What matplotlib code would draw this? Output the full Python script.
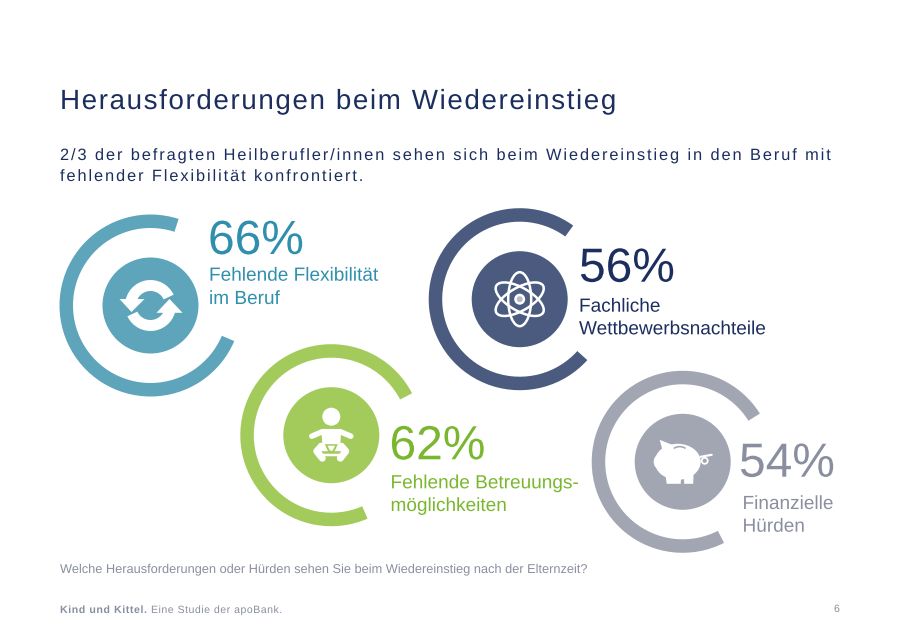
import matplotlib
matplotlib.use("Agg")
import matplotlib.pyplot as plt
from matplotlib.colors import to_rgba
from matplotlib.patches import Circle, Wedge, Ellipse, Polygon
from matplotlib.text import Text
from matplotlib.textpath import TextPath, text_to_path
from matplotlib.transforms import Affine2D, Bbox

plt.rcParams["font.family"] = ["Liberation Sans", "DejaVu Sans"]

H = 637

title = "Herausforderungen beim Wiedereinstieg"
subtitle = ["2/3 der befragten Heilberufler/innen sehen sich beim Wiedereinstieg in den Beruf mit",
            "fehlender Flexibilität konfrontiert."]
question = "Welche Herausforderungen oder Hürden sehen Sie beim Wiedereinstieg nach der Elternzeit?"

percent = [66, 62, 56, 54]
labels = [["Fehlende Flexibilität", "im Beruf"],
          ["Fehlende Betreuungs-", "möglichkeiten"],
          ["Fachliche", "Wettbewerbsnachteile"],
          ["Finanzielle", "Hürden"]]
# arc ends as drawn on the slide, degrees ccw from east
arc_start = [72, 27.4, 54, 32]
arc_end = [337, 293.5, 318, 297]

# layout, all in pixels from top left
centers = [(150.5, 305.5), (331.3, 435.2), (519.7, 299.2), (682.7, 461.8)]
num_pos = [(208, 254), (389.5, 459.3), (579, 281.7), (739, 476.7)]
lab_pos = [(209, 280.7, 304), (390.5, 488.3, 511), (579, 311.7, 334.3), (742.5, 509, 531.7)]
ring_col = ["#5EA5BB", "#A3CB5C", "#4A5B7F", "#A2A6B3"]
text_col = ["#2F8FAD", "#7AB72F", "#1C2E5E", "#8A8FA0"]
navy = "#1C2E5E"
grey = "#8A8FA0"


# matplotlib has no letter spacing, so draw the string glyph by glyph as outlines
# (outlines because Agg rounds glyph bitmaps to whole pixels and the letters jump)
class SpacedText(Text):
    def __init__(self, x, y, s, spacing=0.0, **kw):
        super().__init__(x, y, s, **kw)
        self.spacing = spacing

    def get_window_extent(self, renderer=None, dpi=None):
        b = super().get_window_extent(renderer, dpi)
        return Bbox.from_extents(b.x0, b.y0, b.x1 + self.spacing * (len(self.get_text()) - 1), b.y1)

    def draw(self, renderer):
        s = self.get_text()
        fp = self.get_fontproperties()
        k = renderer.dpi / 72
        x, y = self.get_transform().transform(self.get_position())
        gc = renderer.new_gc()
        gc.set_linewidth(0)
        gc.set_snap(False)
        face = to_rgba(self.get_color())
        for i, ch in enumerate(s):
            if ch == " ":
                continue
            w = text_to_path.get_text_width_height_descent(s[:i + 1], fp, False)[0]
            w1 = text_to_path.get_text_width_height_descent(ch, fp, False)[0]
            path = TextPath((0, 0), ch, size=fp.get_size_in_points() * k, prop=fp)
            renderer.draw_path(gc, path, Affine2D().translate(x + (w - w1) * k + i * self.spacing, y), face)
        gc.restore()


fig = plt.figure(figsize=(9, 6.37), dpi=100)
ax = fig.add_axes([0, 0, 1, 1])
ax.set_xlim(0, 900)
ax.set_ylim(0, H)
ax.axis("off")


def txt(x, y, s, size, color, spacing=0.0, **kw):
    t = SpacedText(x, H - y, s, spacing=spacing, fontsize=size, color=color, va="baseline", **kw)
    ax.add_artist(t)
    t.set_clip_on(False)


def poly(c, pts, color="white", z=4):
    ax.add_patch(Polygon([(c[0] + p[0], H - c[1] - p[1]) for p in pts], closed=True, fc=color, ec="none", zorder=z))


def line(c, pts, width, color="white", z=4):
    ax.plot([c[0] + p[0] for p in pts], [H - c[1] - p[1] for p in pts], color=color, lw=width * 0.72,
            solid_capstyle="round", solid_joinstyle="round", zorder=z)


def refresh_icon(c):
    cy = (c[0], H - c[1])
    ax.add_patch(Wedge(cy, 25.5, 25, 175, width=11, fc="white", ec="none", zorder=4))
    ax.add_patch(Wedge(cy, 25.5, 205, 355, width=11, fc="white", ec="none", zorder=4))
    poly(c, [(-31, -6.5), (-6, -6.5), (-19, 6.5)])
    poly(c, [(32, 7.3), (6, 7.3), (19, -6.5)])


def baby_icon(c):
    ax.add_patch(Circle((c[0], H - c[1] + 18.5), 9, fc="white", ec="none", zorder=4))
    line(c, [(-19.5, 1), (-9, -3.5), (9, -3.5), (19.5, 1)], 5.5)
    poly(c, [(-10, -6), (10, -6), (9, 9), (-9, 9)])
    poly(c, [(-12, 8), (12, 8), (15, 16), (-15, 16)])
    line(c, [(-10, 11), (-14.5, 16), (-9, 23)], 7)
    line(c, [(10, 11), (14.5, 16), (9, 23)], 7)
    line(c, [(-8, 20), (8, 20)], 2.5)
    poly(c, [(-6.5, 9), (6.5, 9), (2.5, 18), (-2.5, 18)], ring_col[1], 5)
    poly(c, [(-3.8, 10.5), (3.8, 10.5), (1.2, 15.5), (-1.2, 15.5)], "white", 6)


def atom_icon(c):
    cy = (c[0], H - c[1])
    for a in [30, 90, 150]:
        ax.add_patch(Ellipse(cy, 54, 23, angle=a, fc="none", ec="white", lw=1.8, zorder=4))
    ax.add_patch(Circle(cy, 5.5, fc="white", ec="none", zorder=5))
    ax.add_patch(Circle(cy, 3, fc="#B4BCCB", ec="none", zorder=6))


def pig_icon(c):
    col = ring_col[3]
    ax.add_patch(Ellipse((c[0] - 5, H - c[1]), 46, 36, fc="white", ec="none", zorder=4))
    ax.add_patch(Ellipse((c[0] - 25.5, H - c[1]), 7, 12, fc="white", ec="none", zorder=4))
    poly(c, [(-23, -22), (-8, -16), (-19, -7)])
    poly(c, [(-18, 8), (-1, 8), (-2, 22), (-16, 22)])
    poly(c, [(1, 8), (11, 8), (10.5, 22), (1.5, 22)])
    ax.add_patch(Wedge((c[0] - 3, H - c[1] + 5), 11, 55, 125, width=1.6, fc=col, ec="none", zorder=5))
    line(c, [(18, -5), (29, -7)], 2.2)
    ax.add_patch(Circle((c[0] + 22, H - c[1] + 1), 3, fc="none", ec="white", lw=1.3, zorder=4))


# rings and discs
for i in range(len(percent)):
    c = (centers[i][0], H - centers[i][1])
    ax.add_patch(Wedge(c, 91, arc_start[i], arc_end[i], width=13.5, fc=ring_col[i], ec="none", zorder=2))
    ax.add_patch(Circle(c, 48, fc=ring_col[i], ec="none", zorder=3))
    txt(num_pos[i][0], num_pos[i][1], str(percent[i]) + "%", 34.5, text_col[i])
    txt(lab_pos[i][0], lab_pos[i][1], labels[i][0], 13.7, text_col[i])
    txt(lab_pos[i][0], lab_pos[i][2], labels[i][1], 13.7, text_col[i])

refresh_icon(centers[0])
baby_icon(centers[1])
atom_icon(centers[2])
pig_icon(centers[3])

txt(60, 109, title, 20, navy, spacing=1.6)
txt(60, 160, subtitle[0], 11.8, navy, spacing=1.9)
txt(60, 181, subtitle[1], 11.8, navy, spacing=1.9)
txt(60, 573, question, 9.2, grey)
txt(60, 613, "Kind und Kittel.", 7.6, grey, spacing=0.6, fontweight="bold")
txt(151, 613, "Eine Studie der apoBank.", 7.6, grey, spacing=0.5)
txt(834, 612, "6", 7.6, grey)

fig.savefig("out.png", dpi=100, facecolor="white")
